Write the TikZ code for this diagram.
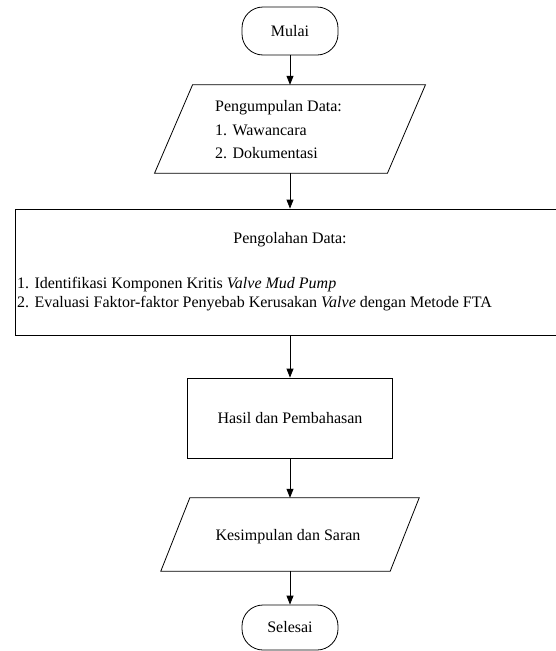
\documentclass[tikz,border=0pt]{standalone}
\usepackage{fontspec}
\setmainfont{Liberation Serif}
\usetikzlibrary{arrows.meta,calc}
\begin{document}
\begin{tikzpicture}[x=1pt,y=-1pt,
  every node/.style={font=\fontsize{16}{19}\selectfont},
  line/.style={draw=black,line width=0.8pt},
  arr/.style={line,-{Triangle[length=9pt,width=7pt]}},
  term/.style={line,rounded corners=21pt,minimum width=96pt,inner sep=0pt},
  procbox/.style={line,inner sep=0pt},
  shapeonly/.style={inner sep=0pt}
]
\clip (0,0) rectangle (556,651);
% start
\node[term,minimum height=48pt] (mulai) at (290,31) {Mulai};
% input parallelogram 1
\node[shapeonly,minimum width=232.5pt,minimum height=88pt] (p1) at (290,129) {};
\draw[line] ([xshift=-19pt]p1.south west) -- ([xshift=19pt]p1.north west) -- ([xshift=19pt]p1.north east) -- ([xshift=-19pt]p1.south east) -- cycle;
\node[anchor=west,align=left,inner sep=0pt,font=\fontsize{16}{23.5}\selectfont] (p1t) at (215,130) {Pengumpulan Data:\\1. Wawancara\\2. Dokumentasi};
% processing box
\node[procbox,minimum width=551pt,minimum height=126pt] (olah) at (290.5,272) {};
\node[inner sep=0pt] (olaht) at (290,240) {Pengolahan Data:};
\node[anchor=west,align=left,inner sep=0pt] (olahl) at (17,294.5) {1. Identifikasi Komponen Kritis \textit{Valve Mud Pump}\\2. Evaluasi Faktor-faktor Penyebab Kerusakan \textit{Valve} dengan Metode FTA};
% results
\node[procbox,minimum width=205pt,minimum height=80pt] (hasil) at (290,418) {Hasil dan Pembahasan};
% parallelogram 2
\node[shapeonly,minimum width=229pt,minimum height=73pt] (p2) at (290,534.5) {};
\draw[line] ([xshift=-14.5pt]p2.south west) -- ([xshift=14.5pt]p2.north west) -- ([xshift=14.5pt]p2.north east) -- ([xshift=-14.5pt]p2.south east) -- cycle;
\node[inner sep=0pt] (p2t) at (288,537) {Kesimpulan dan Saran};
% end
\node[term,minimum height=45pt] (selesai) at (290,627.5) {Selesai};
% connectors
\draw[arr] (mulai.south) -- (p1.north);
\draw[arr] (p1.south) -- (p1.south |- olah.north);
\draw[arr] (olah.south -| hasil.north) -- (hasil.north);
\draw[arr] (hasil.south) -- (p2.north);
\draw[arr] (p2.south) -- (selesai.north);
\end{tikzpicture}
\end{document}
